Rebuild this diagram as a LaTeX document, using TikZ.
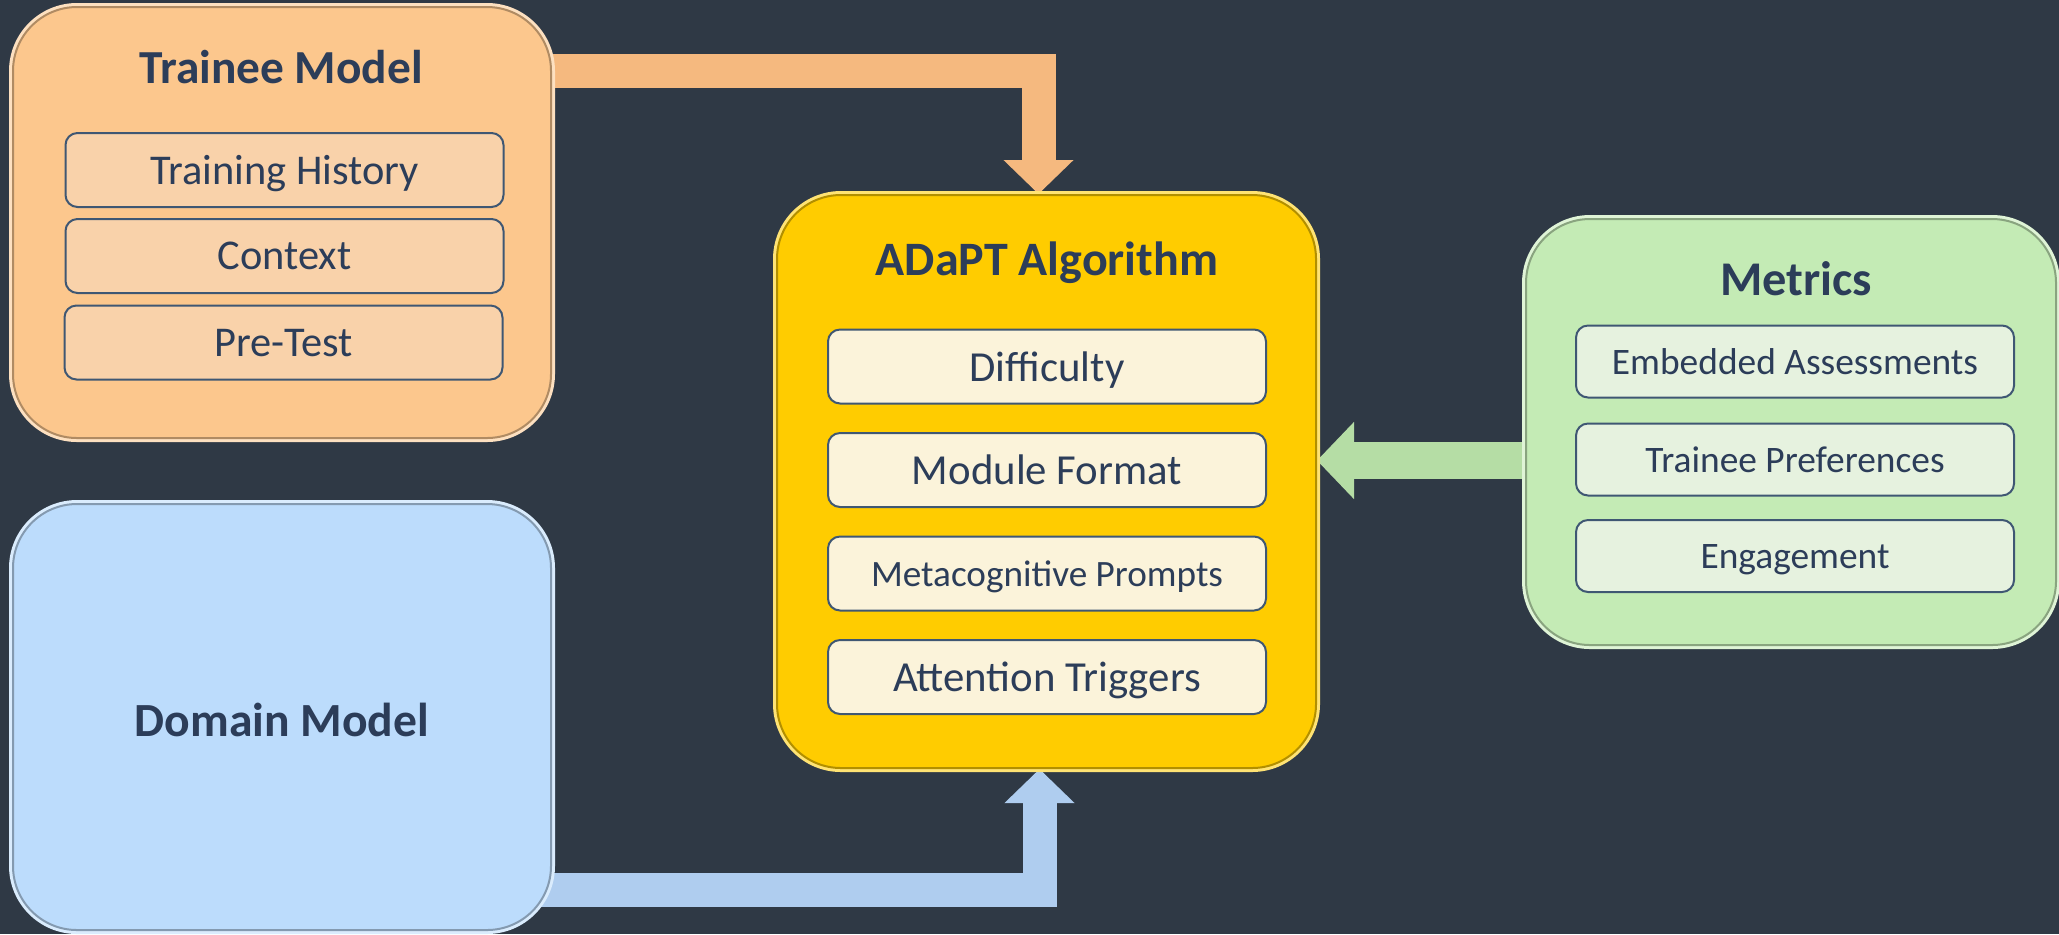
\documentclass[tikz,border=0pt]{standalone}
\usepackage{fontspec}
\setmainfont{Carlito}
\usepackage{xcolor}
\usetikzlibrary{arrows.meta,positioning}

\definecolor{bgdark}{HTML}{2F3945}
\definecolor{navy}{HTML}{2C3D59}
\definecolor{itemline}{HTML}{3F5773}
\definecolor{orangebox}{HTML}{FCC78D}
\definecolor{orangeitem}{HTML}{F9D2AA}
\definecolor{orangearrow}{HTML}{F5B97F}
\definecolor{yellowbox}{HTML}{FFCC00}
\definecolor{creamitem}{HTML}{FBF3DA}
\definecolor{greenbox}{HTML}{C4EBB5}
\definecolor{greenitem}{HTML}{E6F2DF}
\definecolor{greenarrow}{HTML}{B5DDA5}
\definecolor{bluebox}{HTML}{BCDCFC}
\definecolor{bluearrow}{HTML}{AFCDEF}

\pgfdeclarelayer{back}
\pgfsetlayers{back,main}

\tikzset{
  bigbox/.style={rectangle, rounded corners=32pt, fill=#1, draw=#1!70!black, line width=1pt,
    preaction={draw=#1!55!white, line width=4pt}, inner sep=0pt, text=navy},
  itembox/.style={rectangle, rounded corners=6pt, fill=#1, draw=itemline, line width=1pt,
    text=navy, inner sep=0pt, text depth=0pt, minimum width=219pt, minimum height=37pt},
  boxtitle/.style={anchor=base, text=navy, font=\fontsize{23.7}{28}\selectfont\bfseries},
  flow/.style={draw=#1, line width=17pt, line join=miter, -{Triangle[width=34pt,length=17pt]}},
}

\begin{document}
\begin{tikzpicture}[x=0.5pt,y=-0.5pt]
	\useasboundingbox (0,0) rectangle (2059,934);

	% trainee model
	\node[bigbox=orangebox, minimum width=269pt, minimum height=215.5pt] (trainee) at (282,222.5) {};
	\node[boxtitle] (traineetitle) at (281,83) {Trainee Model};
	\node[itembox=orangeitem, font=\fontsize{21.2}{25}\selectfont] (history) at (284.5,170) {Training History};
	\node[itembox=orangeitem, font=\fontsize{21.2}{25}\selectfont] (context) at (284.5,256) {Context};
	\node[itembox=orangeitem, font=\fontsize{21.2}{25}\selectfont] (pretest) at (283.5,342.5) {Pre-Test};

	% domain model
	\node[bigbox=bluebox, minimum width=269pt, minimum height=213pt, text depth=0pt, text height=19pt,
		font=\fontsize{23.8}{28}\selectfont\bfseries] (domain) at (282,717) {Domain Model};

	% adapt algorithm
	\node[bigbox=yellowbox, minimum width=269.5pt, minimum height=286.5pt] (adapt) at (1046.5,481.5) {};
	\node[boxtitle, font=\fontsize{24}{28}\selectfont\bfseries] (adapttitle) at (1047,275) {ADaPT Algorithm};
	\node[itembox=creamitem, font=\fontsize{21.4}{25}\selectfont] (difficulty) at (1047,366.5) {Difficulty};
	\node[itembox=creamitem, font=\fontsize{21.4}{25}\selectfont] (format) at (1047,470) {Module Format};
	\node[itembox=creamitem, font=\fontsize{18.6}{22}\selectfont] (prompts) at (1047,573.5) {Metacognitive Prompts};
	\node[itembox=creamitem, font=\fontsize{21.4}{25}\selectfont] (triggers) at (1047,677) {Attention Triggers};

	% metrics
	\node[bigbox=greenbox, minimum width=265pt, minimum height=213pt] (metrics) at (1791,432) {};
	\node[boxtitle, font=\fontsize{24.2}{28}\selectfont\bfseries] (metricstitle) at (1796,295) {Metrics};
	\node[itembox=greenitem, minimum height=36pt, font=\fontsize{18.7}{22}\selectfont] (assess) at (1795,361.5) {Embedded Assessments};
	\node[itembox=greenitem, minimum height=36pt, font=\fontsize{18.7}{22}\selectfont] (prefs) at (1795,459.5) {Trainee Preferences};
	\node[itembox=greenitem, minimum height=36pt, font=\fontsize{18.7}{22}\selectfont] (engage) at (1795,556) {Engagement};

	\begin{pgfonlayer}{back}
		\fill[bgdark] (0,0) rectangle (2059,934);
		\draw[flow=orangearrow] ([xshift=-10pt,yshift=-32.25pt]trainee.north east) -| ([xshift=-4pt]adapt.north);
		\draw[flow=bluearrow] ([xshift=-10pt,yshift=20.75pt]domain.south east) -| ([xshift=-3.5pt]adapt.south);
		\coordinate (greenstart) at ([xshift=10pt,yshift=-14.25pt]metrics.west);
		\draw[flow=greenarrow, line width=18.5pt, -{Triangle[width=37.5pt,length=18.5pt]}] (greenstart) -- (adapt.east |- greenstart);
	\end{pgfonlayer}
\end{tikzpicture}
\end{document}
